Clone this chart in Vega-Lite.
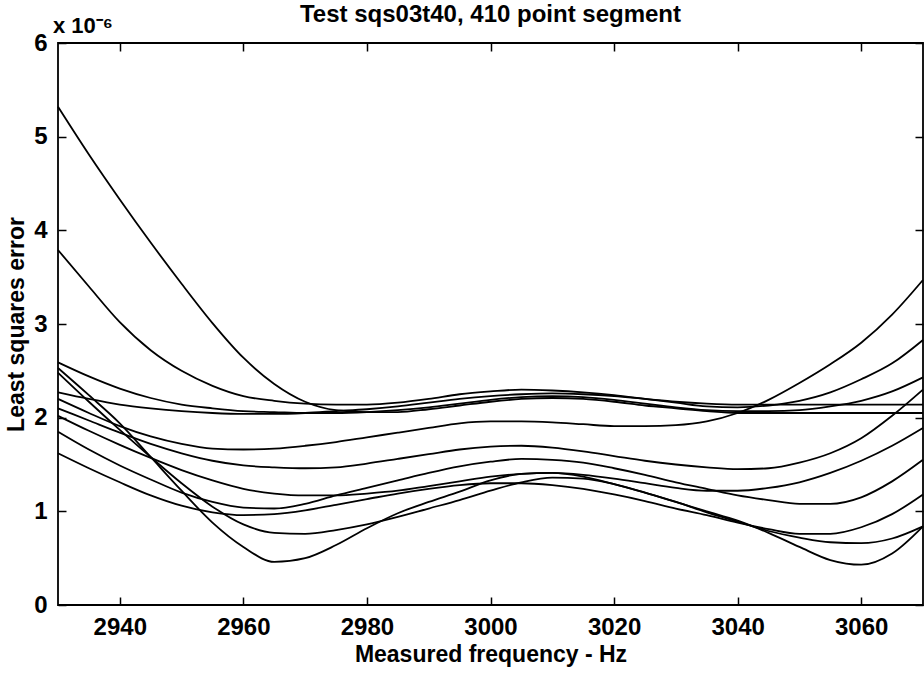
{
"$schema": "https://vega.github.io/schema/vega-lite/v6.json",
"width": 865, "height": 562,
"autosize": {"type": "none"},
"padding": {"left": 58, "top": 43, "right": 1, "bottom": 68},
"background": "white",
"config": {
  "font": "Liberation Sans",
  "view": {"stroke": "#000", "strokeWidth": 1.8},
  "axis": {"domain": false, "grid": false, "tickColor": "#000", "tickSize": -8, "tickWidth": 1.5,
    "labelColor": "#000", "labelFont": "Liberation Sans", "labelFontSize": 24, "labelFontWeight": "bold",
    "titleFont": "Liberation Sans", "titleFontSize": 23, "titleFontWeight": "bold", "titleColor": "#000"}
},
"title": {"text": "Test sqs03t40, 410 point segment", "font": "Liberation Sans", "fontSize": 24, "fontWeight": "bold", "anchor": "middle", "frame": "group", "offset": -12, "color": "#000"},
"data": {"values": [
{"curve":"A","freq":2930,"lse":5.32},{"curve":"A","freq":2935,"lse":4.81},{"curve":"A","freq":2940,"lse":4.33},{"curve":"A","freq":2945,"lse":3.87},{"curve":"A","freq":2950,"lse":3.43},{"curve":"A","freq":2955,"lse":3.01},{"curve":"A","freq":2960,"lse":2.64},{"curve":"A","freq":2965,"lse":2.36},{"curve":"A","freq":2970,"lse":2.17},{"curve":"A","freq":2975,"lse":2.08},{"curve":"A","freq":2980,"lse":2.06},{"curve":"A","freq":2985,"lse":2.06},{"curve":"A","freq":2990,"lse":2.09},{"curve":"A","freq":2995,"lse":2.13},{"curve":"A","freq":3000,"lse":2.17},{"curve":"A","freq":3005,"lse":2.20},{"curve":"A","freq":3010,"lse":2.21},{"curve":"A","freq":3015,"lse":2.20},{"curve":"A","freq":3020,"lse":2.17},{"curve":"A","freq":3025,"lse":2.13},{"curve":"A","freq":3030,"lse":2.10},{"curve":"A","freq":3035,"lse":2.07},{"curve":"A","freq":3040,"lse":2.05},{"curve":"A","freq":3045,"lse":2.05},{"curve":"A","freq":3050,"lse":2.05},{"curve":"A","freq":3055,"lse":2.05},{"curve":"A","freq":3060,"lse":2.05},{"curve":"A","freq":3065,"lse":2.05},{"curve":"A","freq":3070,"lse":2.05},
{"curve":"B","freq":2930,"lse":3.79},{"curve":"B","freq":2935,"lse":3.40},{"curve":"B","freq":2940,"lse":3.02},{"curve":"B","freq":2945,"lse":2.72},{"curve":"B","freq":2950,"lse":2.50},{"curve":"B","freq":2955,"lse":2.34},{"curve":"B","freq":2960,"lse":2.23},{"curve":"B","freq":2965,"lse":2.18},{"curve":"B","freq":2970,"lse":2.15},{"curve":"B","freq":2975,"lse":2.14},{"curve":"B","freq":2980,"lse":2.14},{"curve":"B","freq":2985,"lse":2.16},{"curve":"B","freq":2990,"lse":2.20},{"curve":"B","freq":2995,"lse":2.25},{"curve":"B","freq":3000,"lse":2.28},{"curve":"B","freq":3005,"lse":2.30},{"curve":"B","freq":3010,"lse":2.29},{"curve":"B","freq":3015,"lse":2.27},{"curve":"B","freq":3020,"lse":2.24},{"curve":"B","freq":3025,"lse":2.20},{"curve":"B","freq":3030,"lse":2.16},{"curve":"B","freq":3035,"lse":2.12},{"curve":"B","freq":3040,"lse":2.11},{"curve":"B","freq":3045,"lse":2.13},{"curve":"B","freq":3050,"lse":2.18},{"curve":"B","freq":3055,"lse":2.27},{"curve":"B","freq":3060,"lse":2.41},{"curve":"B","freq":3065,"lse":2.58},{"curve":"B","freq":3070,"lse":2.83},
{"curve":"C","freq":2930,"lse":2.59},{"curve":"C","freq":2935,"lse":2.44},{"curve":"C","freq":2940,"lse":2.31},{"curve":"C","freq":2945,"lse":2.21},{"curve":"C","freq":2950,"lse":2.14},{"curve":"C","freq":2955,"lse":2.10},{"curve":"C","freq":2960,"lse":2.07},{"curve":"C","freq":2965,"lse":2.06},{"curve":"C","freq":2970,"lse":2.05},{"curve":"C","freq":2975,"lse":2.05},{"curve":"C","freq":2980,"lse":2.06},{"curve":"C","freq":2985,"lse":2.08},{"curve":"C","freq":2990,"lse":2.11},{"curve":"C","freq":2995,"lse":2.15},{"curve":"C","freq":3000,"lse":2.19},{"curve":"C","freq":3005,"lse":2.22},{"curve":"C","freq":3010,"lse":2.23},{"curve":"C","freq":3015,"lse":2.22},{"curve":"C","freq":3020,"lse":2.19},{"curve":"C","freq":3025,"lse":2.15},{"curve":"C","freq":3030,"lse":2.11},{"curve":"C","freq":3035,"lse":2.08},{"curve":"C","freq":3040,"lse":2.07},{"curve":"C","freq":3045,"lse":2.07},{"curve":"C","freq":3050,"lse":2.08},{"curve":"C","freq":3055,"lse":2.12},{"curve":"C","freq":3060,"lse":2.18},{"curve":"C","freq":3065,"lse":2.28},{"curve":"C","freq":3070,"lse":2.43},
{"curve":"D","freq":2930,"lse":2.27},{"curve":"D","freq":2935,"lse":2.20},{"curve":"D","freq":2940,"lse":2.14},{"curve":"D","freq":2945,"lse":2.10},{"curve":"D","freq":2950,"lse":2.07},{"curve":"D","freq":2955,"lse":2.05},{"curve":"D","freq":2960,"lse":2.04},{"curve":"D","freq":2965,"lse":2.04},{"curve":"D","freq":2970,"lse":2.05},{"curve":"D","freq":2975,"lse":2.07},{"curve":"D","freq":2980,"lse":2.09},{"curve":"D","freq":2985,"lse":2.12},{"curve":"D","freq":2990,"lse":2.16},{"curve":"D","freq":2995,"lse":2.20},{"curve":"D","freq":3000,"lse":2.23},{"curve":"D","freq":3005,"lse":2.25},{"curve":"D","freq":3010,"lse":2.26},{"curve":"D","freq":3015,"lse":2.25},{"curve":"D","freq":3020,"lse":2.23},{"curve":"D","freq":3025,"lse":2.20},{"curve":"D","freq":3030,"lse":2.17},{"curve":"D","freq":3035,"lse":2.15},{"curve":"D","freq":3040,"lse":2.14},{"curve":"D","freq":3045,"lse":2.14},{"curve":"D","freq":3050,"lse":2.14},{"curve":"D","freq":3055,"lse":2.14},{"curve":"D","freq":3060,"lse":2.14},{"curve":"D","freq":3065,"lse":2.14},{"curve":"D","freq":3070,"lse":2.14},
{"curve":"E","freq":2930,"lse":2.20},{"curve":"E","freq":2935,"lse":2.05},{"curve":"E","freq":2940,"lse":1.91},{"curve":"E","freq":2945,"lse":1.80},{"curve":"E","freq":2950,"lse":1.72},{"curve":"E","freq":2955,"lse":1.67},{"curve":"E","freq":2960,"lse":1.66},{"curve":"E","freq":2965,"lse":1.67},{"curve":"E","freq":2970,"lse":1.70},{"curve":"E","freq":2975,"lse":1.74},{"curve":"E","freq":2980,"lse":1.79},{"curve":"E","freq":2985,"lse":1.84},{"curve":"E","freq":2990,"lse":1.89},{"curve":"E","freq":2995,"lse":1.94},{"curve":"E","freq":3000,"lse":1.96},{"curve":"E","freq":3005,"lse":1.96},{"curve":"E","freq":3010,"lse":1.95},{"curve":"E","freq":3015,"lse":1.93},{"curve":"E","freq":3020,"lse":1.91},{"curve":"E","freq":3025,"lse":1.91},{"curve":"E","freq":3030,"lse":1.92},{"curve":"E","freq":3035,"lse":1.96},{"curve":"E","freq":3040,"lse":2.05},{"curve":"E","freq":3045,"lse":2.19},{"curve":"E","freq":3050,"lse":2.37},{"curve":"E","freq":3055,"lse":2.57},{"curve":"E","freq":3060,"lse":2.80},{"curve":"E","freq":3065,"lse":3.10},{"curve":"E","freq":3070,"lse":3.47},
{"curve":"F","freq":2930,"lse":2.10},{"curve":"F","freq":2935,"lse":1.97},{"curve":"F","freq":2940,"lse":1.84},{"curve":"F","freq":2945,"lse":1.72},{"curve":"F","freq":2950,"lse":1.62},{"curve":"F","freq":2955,"lse":1.54},{"curve":"F","freq":2960,"lse":1.49},{"curve":"F","freq":2965,"lse":1.47},{"curve":"F","freq":2970,"lse":1.46},{"curve":"F","freq":2975,"lse":1.47},{"curve":"F","freq":2980,"lse":1.51},{"curve":"F","freq":2985,"lse":1.56},{"curve":"F","freq":2990,"lse":1.61},{"curve":"F","freq":2995,"lse":1.66},{"curve":"F","freq":3000,"lse":1.69},{"curve":"F","freq":3005,"lse":1.70},{"curve":"F","freq":3010,"lse":1.68},{"curve":"F","freq":3015,"lse":1.64},{"curve":"F","freq":3020,"lse":1.59},{"curve":"F","freq":3025,"lse":1.54},{"curve":"F","freq":3030,"lse":1.50},{"curve":"F","freq":3035,"lse":1.47},{"curve":"F","freq":3040,"lse":1.45},{"curve":"F","freq":3045,"lse":1.46},{"curve":"F","freq":3050,"lse":1.52},{"curve":"F","freq":3055,"lse":1.62},{"curve":"F","freq":3060,"lse":1.78},{"curve":"F","freq":3065,"lse":2.02},{"curve":"F","freq":3070,"lse":2.30},
{"curve":"G","freq":2930,"lse":1.85},{"curve":"G","freq":2935,"lse":1.66},{"curve":"G","freq":2940,"lse":1.49},{"curve":"G","freq":2945,"lse":1.34},{"curve":"G","freq":2950,"lse":1.20},{"curve":"G","freq":2955,"lse":1.10},{"curve":"G","freq":2960,"lse":1.04},{"curve":"G","freq":2965,"lse":1.03},{"curve":"G","freq":2970,"lse":1.08},{"curve":"G","freq":2975,"lse":1.17},{"curve":"G","freq":2980,"lse":1.25},{"curve":"G","freq":2985,"lse":1.33},{"curve":"G","freq":2990,"lse":1.41},{"curve":"G","freq":2995,"lse":1.48},{"curve":"G","freq":3000,"lse":1.53},{"curve":"G","freq":3005,"lse":1.56},{"curve":"G","freq":3010,"lse":1.55},{"curve":"G","freq":3015,"lse":1.52},{"curve":"G","freq":3020,"lse":1.46},{"curve":"G","freq":3025,"lse":1.39},{"curve":"G","freq":3030,"lse":1.31},{"curve":"G","freq":3035,"lse":1.24},{"curve":"G","freq":3040,"lse":1.17},{"curve":"G","freq":3045,"lse":1.12},{"curve":"G","freq":3050,"lse":1.08},{"curve":"G","freq":3055,"lse":1.08},{"curve":"G","freq":3060,"lse":1.15},{"curve":"G","freq":3065,"lse":1.32},{"curve":"G","freq":3070,"lse":1.55},
{"curve":"H","freq":2930,"lse":2.02},{"curve":"H","freq":2935,"lse":1.86},{"curve":"H","freq":2940,"lse":1.71},{"curve":"H","freq":2945,"lse":1.57},{"curve":"H","freq":2950,"lse":1.44},{"curve":"H","freq":2955,"lse":1.33},{"curve":"H","freq":2960,"lse":1.24},{"curve":"H","freq":2965,"lse":1.19},{"curve":"H","freq":2970,"lse":1.17},{"curve":"H","freq":2975,"lse":1.17},{"curve":"H","freq":2980,"lse":1.19},{"curve":"H","freq":2985,"lse":1.22},{"curve":"H","freq":2990,"lse":1.27},{"curve":"H","freq":2995,"lse":1.32},{"curve":"H","freq":3000,"lse":1.37},{"curve":"H","freq":3005,"lse":1.40},{"curve":"H","freq":3010,"lse":1.41},{"curve":"H","freq":3015,"lse":1.39},{"curve":"H","freq":3020,"lse":1.35},{"curve":"H","freq":3025,"lse":1.30},{"curve":"H","freq":3030,"lse":1.25},{"curve":"H","freq":3035,"lse":1.22},{"curve":"H","freq":3040,"lse":1.22},{"curve":"H","freq":3045,"lse":1.25},{"curve":"H","freq":3050,"lse":1.31},{"curve":"H","freq":3055,"lse":1.41},{"curve":"H","freq":3060,"lse":1.54},{"curve":"H","freq":3065,"lse":1.70},{"curve":"H","freq":3070,"lse":1.89},
{"curve":"I","freq":2930,"lse":1.62},{"curve":"I","freq":2935,"lse":1.46},{"curve":"I","freq":2940,"lse":1.31},{"curve":"I","freq":2945,"lse":1.17},{"curve":"I","freq":2950,"lse":1.06},{"curve":"I","freq":2955,"lse":0.99},{"curve":"I","freq":2960,"lse":0.96},{"curve":"I","freq":2965,"lse":0.97},{"curve":"I","freq":2970,"lse":1.01},{"curve":"I","freq":2975,"lse":1.07},{"curve":"I","freq":2980,"lse":1.13},{"curve":"I","freq":2985,"lse":1.19},{"curve":"I","freq":2990,"lse":1.24},{"curve":"I","freq":2995,"lse":1.28},{"curve":"I","freq":3000,"lse":1.30},{"curve":"I","freq":3005,"lse":1.30},{"curve":"I","freq":3010,"lse":1.28},{"curve":"I","freq":3015,"lse":1.24},{"curve":"I","freq":3020,"lse":1.18},{"curve":"I","freq":3025,"lse":1.11},{"curve":"I","freq":3030,"lse":1.03},{"curve":"I","freq":3035,"lse":0.96},{"curve":"I","freq":3040,"lse":0.88},{"curve":"I","freq":3045,"lse":0.81},{"curve":"I","freq":3050,"lse":0.76},{"curve":"I","freq":3055,"lse":0.76},{"curve":"I","freq":3060,"lse":0.83},{"curve":"I","freq":3065,"lse":0.97},{"curve":"I","freq":3070,"lse":1.18},
{"curve":"J","freq":2930,"lse":2.48},{"curve":"J","freq":2935,"lse":2.17},{"curve":"J","freq":2940,"lse":1.87},{"curve":"J","freq":2945,"lse":1.58},{"curve":"J","freq":2950,"lse":1.30},{"curve":"J","freq":2955,"lse":1.05},{"curve":"J","freq":2960,"lse":0.86},{"curve":"J","freq":2965,"lse":0.77},{"curve":"J","freq":2970,"lse":0.76},{"curve":"J","freq":2975,"lse":0.80},{"curve":"J","freq":2980,"lse":0.86},{"curve":"J","freq":2985,"lse":0.94},{"curve":"J","freq":2990,"lse":1.03},{"curve":"J","freq":2995,"lse":1.12},{"curve":"J","freq":3000,"lse":1.22},{"curve":"J","freq":3005,"lse":1.31},{"curve":"J","freq":3010,"lse":1.36},{"curve":"J","freq":3015,"lse":1.35},{"curve":"J","freq":3020,"lse":1.29},{"curve":"J","freq":3025,"lse":1.20},{"curve":"J","freq":3030,"lse":1.10},{"curve":"J","freq":3035,"lse":0.99},{"curve":"J","freq":3040,"lse":0.89},{"curve":"J","freq":3045,"lse":0.79},{"curve":"J","freq":3050,"lse":0.72},{"curve":"J","freq":3055,"lse":0.67},{"curve":"J","freq":3060,"lse":0.66},{"curve":"J","freq":3065,"lse":0.71},{"curve":"J","freq":3070,"lse":0.84},
{"curve":"K","freq":2930,"lse":2.53},{"curve":"K","freq":2935,"lse":2.24},{"curve":"K","freq":2940,"lse":1.94},{"curve":"K","freq":2945,"lse":1.58},{"curve":"K","freq":2950,"lse":1.22},{"curve":"K","freq":2955,"lse":0.88},{"curve":"K","freq":2960,"lse":0.62},{"curve":"K","freq":2965,"lse":0.46},{"curve":"K","freq":2970,"lse":0.50},{"curve":"K","freq":2975,"lse":0.64},{"curve":"K","freq":2980,"lse":0.82},{"curve":"K","freq":2985,"lse":0.98},{"curve":"K","freq":2990,"lse":1.10},{"curve":"K","freq":2995,"lse":1.21},{"curve":"K","freq":3000,"lse":1.33},{"curve":"K","freq":3005,"lse":1.40},{"curve":"K","freq":3010,"lse":1.41},{"curve":"K","freq":3015,"lse":1.37},{"curve":"K","freq":3020,"lse":1.29},{"curve":"K","freq":3025,"lse":1.20},{"curve":"K","freq":3030,"lse":1.10},{"curve":"K","freq":3035,"lse":1.00},{"curve":"K","freq":3040,"lse":0.90},{"curve":"K","freq":3045,"lse":0.77},{"curve":"K","freq":3050,"lse":0.62},{"curve":"K","freq":3055,"lse":0.48},{"curve":"K","freq":3060,"lse":0.43},{"curve":"K","freq":3065,"lse":0.55},{"curve":"K","freq":3070,"lse":0.84}
]},
"layer": [
  {"mark": {"type": "line", "color": "#000", "strokeWidth": 1.8, "interpolate": "monotone"},
   "encoding": {
     "x": {"field": "freq", "type": "quantitative", "scale": {"domain": [2930, 3070], "nice": false, "zero": false},
       "axis": {"title": "Measured frequency - Hz", "values": [2940, 2960, 2980, 3000, 3020, 3040, 3060], "format": "d", "labelPadding": 18, "titlePadding": 4}},
     "y": {"field": "lse", "type": "quantitative", "scale": {"domain": [0, 6], "nice": false, "zero": false},
       "axis": {"title": "Least squares error", "values": [0, 1, 2, 3, 4, 5, 6], "format": "d", "labelPadding": 19, "titlePadding": 5}},
     "detail": {"field": "curve"}
   }},
  {"data": {"values": [{}]},
   "mark": {"type": "text", "text": "x 10⁻⁶", "font": "Liberation Sans", "fontSize": 22, "fontWeight": "bold", "align": "left", "baseline": "alphabetic", "dx": -5, "dy": -10, "color": "#000"},
   "encoding": {
     "x": {"datum": 2930, "type": "quantitative", "axis": {"orient": "top", "labels": false, "title": null, "values": [2940, 2960, 2980, 3000, 3020, 3040, 3060]}},
     "y": {"datum": 6, "type": "quantitative", "axis": {"orient": "right", "labels": false, "title": null, "values": [0, 1, 2, 3, 4, 5, 6]}}
   }}
],
"resolve": {"axis": {"x": "independent", "y": "independent"}}
}
